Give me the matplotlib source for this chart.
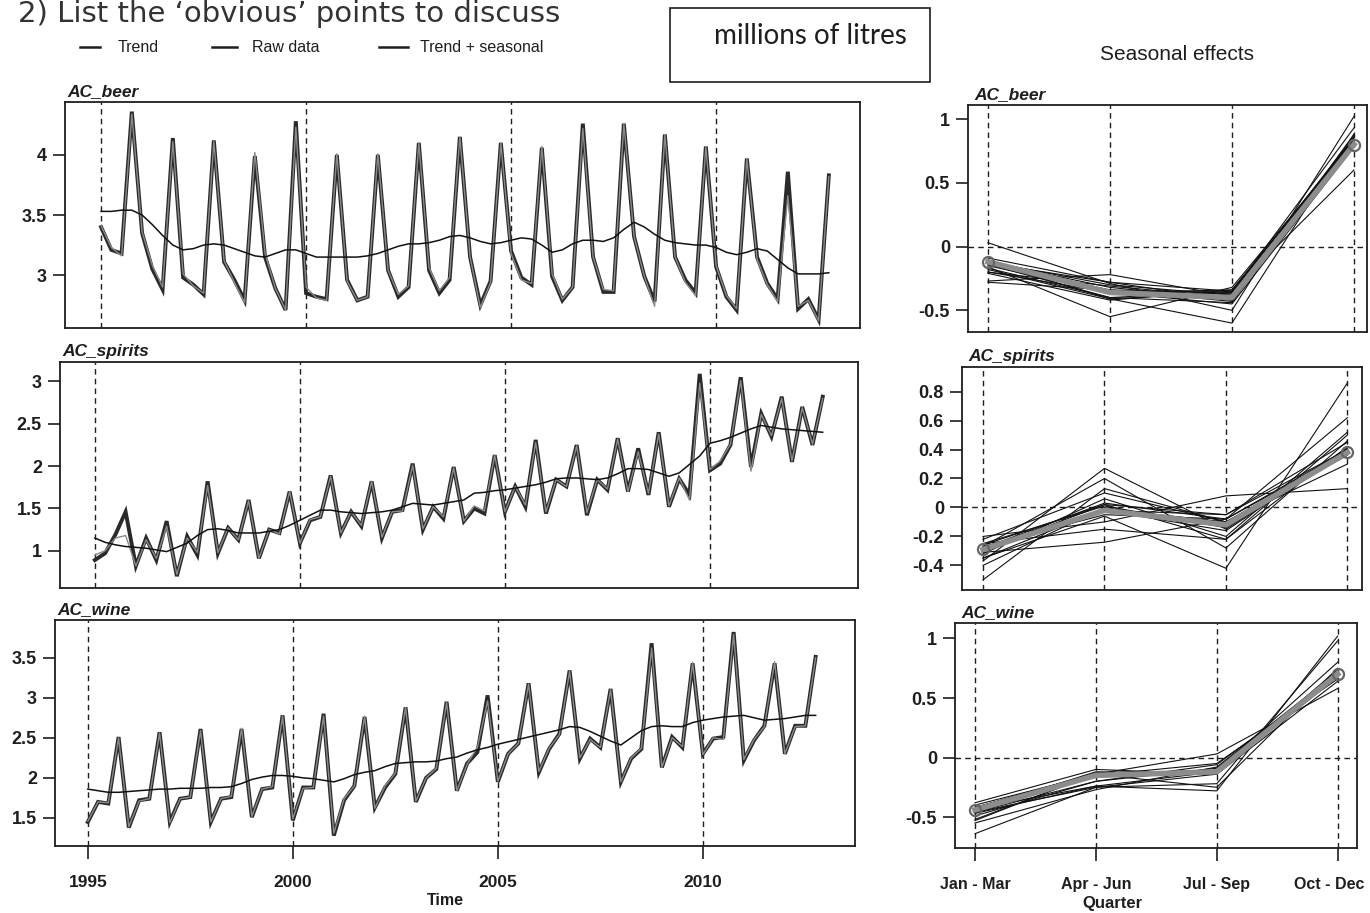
import numpy as np
import matplotlib
matplotlib.use("Agg")
import matplotlib.pyplot as plt
import matplotlib.transforms as mtransforms
from matplotlib.lines import Line2D
from matplotlib.patches import Rectangle

plt.rcParams['font.family'] = ['Liberation Sans', 'DejaVu Sans']

years = list(range(1995, 2013))
quarter_names = ["Jan - Mar", "Apr - Jun", "Jul - Sep", "Oct - Dec"]
series_names = ["AC_beer", "AC_spirits", "AC_wine"]

# raw quarterly data, millions of litres (Q1..Q4 per row)
beer_raw = [3.40, 3.21, 3.18, 4.36,  3.35, 3.05, 2.88, 4.14,  2.98, 2.92, 2.84, 4.12,
            3.11, 2.96, 2.79, 3.99,  3.15, 2.89, 2.71, 4.28,  2.85, 2.82, 2.80, 4.00,
            2.96, 2.79, 2.82, 4.00,  3.04, 2.82, 2.90, 4.10,  3.04, 2.85, 2.96, 4.15,
            3.15, 2.75, 2.95, 4.10,  3.20, 2.98, 2.92, 4.06,  2.99, 2.79, 2.90, 4.26,
            3.15, 2.86, 2.86, 4.26,  3.32, 2.99, 2.78, 4.17,  3.15, 2.96, 2.85, 4.07,
            3.07, 2.82, 2.71, 3.97,  3.15, 2.93, 2.80, 3.86,  2.72, 2.80, 2.63, 3.83]
spirits_raw = [0.89, 0.97, 1.19, 1.46,  0.82, 1.15, 0.89, 1.35,  0.70, 1.17, 0.95, 1.82,
               0.97, 1.27, 1.13, 1.60,  0.91, 1.25, 1.21, 1.70,  1.09, 1.36, 1.40, 1.89,
               1.21, 1.46, 1.29, 1.82,  1.15, 1.46, 1.48, 2.03,  1.25, 1.52, 1.38, 1.99,
               1.35, 1.50, 1.44, 2.13,  1.46, 1.76, 1.52, 2.31,  1.44, 1.84, 1.76, 2.25,
               1.42, 1.84, 1.72, 2.33,  1.70, 2.21, 1.66, 2.40,  1.52, 1.85, 1.66, 3.09,
               1.95, 2.03, 2.25, 3.05,  1.99, 2.62, 2.35, 2.82,  2.05, 2.70, 2.25, 2.82]
wine_raw = [1.45, 1.70, 1.68, 2.51,  1.38, 1.72, 1.74, 2.57,  1.45, 1.74, 1.76, 2.61,
            1.45, 1.74, 1.76, 2.61,  1.51, 1.86, 1.88, 2.78,  1.47, 1.88, 1.88, 2.80,
            1.28, 1.72, 1.90, 2.76,  1.63, 1.88, 2.05, 2.88,  1.70, 2.00, 2.11, 2.95,
            1.84, 2.18, 2.32, 3.03,  1.95, 2.30, 2.43, 3.18,  2.07, 2.36, 2.55, 3.34,
            2.24, 2.49, 2.38, 3.11,  1.95, 2.24, 2.36, 3.68,  2.13, 2.51, 2.38, 3.43,
            2.30, 2.49, 2.51, 3.82,  2.22, 2.47, 2.65, 3.43,  2.30, 2.65, 2.65, 3.51]

# trend component
beer_trend = [3.53, 3.53, 3.54, 3.54,  3.50, 3.42, 3.33, 3.25,  3.21, 3.22, 3.25, 3.26,
              3.25, 3.22, 3.19, 3.16,  3.15, 3.18, 3.21, 3.21,  3.18, 3.15, 3.15, 3.15,
              3.15, 3.15, 3.16, 3.18,  3.21, 3.24, 3.26, 3.26,  3.27, 3.29, 3.32, 3.33,
              3.31, 3.28, 3.26, 3.27,  3.29, 3.31, 3.30, 3.25,  3.19, 3.21, 3.26, 3.29,
              3.29, 3.28, 3.31, 3.38,  3.44, 3.40, 3.34, 3.29,  3.27, 3.26, 3.25, 3.25,
              3.23, 3.19, 3.17, 3.19,  3.22, 3.20, 3.13, 3.06,  3.01, 3.01, 3.01, 3.02]
spirits_trend = [1.15, 1.10, 1.07, 1.05,  1.04, 1.03, 1.01, 0.99,  1.04, 1.09, 1.18, 1.25,
                 1.26, 1.24, 1.21, 1.21,  1.21, 1.23, 1.25, 1.30,  1.36, 1.42, 1.48, 1.48,
                 1.46, 1.45, 1.44, 1.45,  1.46, 1.48, 1.52, 1.56,  1.55, 1.54, 1.56, 1.58,
                 1.60, 1.68, 1.69, 1.71,  1.72, 1.74, 1.76, 1.78,  1.81, 1.85, 1.86, 1.86,
                 1.85, 1.84, 1.86, 1.91,  1.97, 1.97, 1.96, 1.92,  1.88, 1.92, 2.02, 2.12,
                 2.27, 2.30, 2.34, 2.39,  2.44, 2.48, 2.46, 2.44,  2.43, 2.42, 2.41, 2.40]
wine_trend = [1.86, 1.84, 1.82, 1.82,  1.83, 1.84, 1.85, 1.86,  1.86, 1.87, 1.87, 1.87,
              1.88, 1.88, 1.89, 1.93,  1.98, 2.01, 2.03, 2.03,  2.02, 2.00, 1.99, 1.97,
              1.95, 1.99, 2.04, 2.07,  2.09, 2.14, 2.18, 2.19,  2.20, 2.20, 2.21, 2.24,
              2.26, 2.31, 2.35, 2.38,  2.42, 2.45, 2.48, 2.51,  2.54, 2.57, 2.60, 2.64,
              2.63, 2.58, 2.52, 2.46,  2.41, 2.50, 2.59, 2.64,  2.65, 2.64, 2.64, 2.69,
              2.72, 2.74, 2.76, 2.77,  2.78, 2.75, 2.72, 2.73,  2.74, 2.76, 2.78, 2.78]

# seasonal effects, one row per year (Q1..Q4)
beer_seasonal = [[-0.12, -0.30, -0.38, 0.80], [-0.14, -0.34, -0.43, 0.86], [-0.20, -0.31, -0.40, 0.85],
                 [-0.13, -0.28, -0.42, 0.86], [0.03, -0.29, -0.50, 1.02], [-0.28, -0.34, -0.36, 0.86],
                 [-0.20, -0.36, -0.34, 0.83], [-0.17, -0.40, -0.35, 0.84], [-0.21, -0.42, -0.34, 0.82],
                 [-0.16, -0.55, -0.32, 0.83], [-0.11, -0.35, -0.37, 0.82], [-0.18, -0.41, -0.36, 0.93],
                 [-0.14, -0.40, -0.44, 0.88], [-0.12, -0.41, -0.60, 0.88], [-0.12, -0.32, -0.42, 0.82],
                 [-0.15, -0.36, -0.45, 0.78], [-0.09, -0.28, -0.35, 0.60], [-0.27, -0.22, -0.39, 0.80]]
spirits_seasonal = [[-0.20, -0.10, 0.08, 0.13], [-0.22, 0.10, -0.10, 0.30], [-0.32, 0.06, -0.20, 0.52],
                    [-0.28, 0.03, -0.08, 0.38], [-0.30, 0.02, -0.05, 0.40], [-0.27, -0.05, -0.08, 0.40],
                    [-0.25, 0.01, -0.14, 0.37], [-0.30, -0.02, -0.05, 0.45], [-0.29, -0.02, -0.16, 0.40],
                    [-0.25, -0.15, -0.22, 0.42], [-0.26, 0.02, -0.22, 0.50], [-0.35, -0.01, -0.10, 0.38],
                    [-0.40, 0.00, -0.13, 0.41], [-0.27, 0.20, -0.28, 0.46], [-0.35, -0.06, -0.42, 0.86],
                    [-0.31, -0.24, -0.08, 0.62], [-0.50, 0.13, -0.10, 0.36], [-0.37, 0.27, -0.15, 0.40]]
wine_seasonal = [[-0.40, -0.14, -0.13, 0.68], [-0.44, -0.13, -0.11, 0.70], [-0.42, -0.13, -0.11, 0.72],
                 [-0.43, -0.14, -0.12, 0.69], [-0.46, -0.15, -0.14, 0.74], [-0.53, -0.13, -0.11, 0.80],
                 [-0.64, -0.25, -0.14, 0.70], [-0.47, -0.24, -0.12, 0.69], [-0.49, -0.20, -0.09, 0.70],
                 [-0.42, -0.14, 0.03, 0.58], [-0.46, -0.15, -0.05, 0.66], [-0.46, -0.20, -0.06, 0.69],
                 [-0.38, -0.10, -0.14, 0.64], [-0.46, -0.25, -0.22, 0.98], [-0.52, -0.14, -0.25, 0.75],
                 [-0.43, -0.24, -0.28, 1.02], [-0.55, -0.27, -0.08, 0.72], [-0.44, -0.12, -0.13, 0.72]]

# average seasonal effect (grey line with circles)
beer_avg = [-0.12, -0.36, -0.40, 0.80]
spirits_avg = [-0.29, -0.02, -0.12, 0.38]
wine_avg = [-0.44, -0.15, -0.12, 0.70]

raw_all = [beer_raw, spirits_raw, wine_raw]
trend_all = [beer_trend, spirits_trend, wine_trend]
seas_all = [beer_seasonal, spirits_seasonal, wine_seasonal]
avg_all = [beer_avg, spirits_avg, wine_avg]

left_yticks = [[3, 3.5, 4], [1, 1.5, 2, 2.5, 3], [1.5, 2, 2.5, 3, 3.5]]
right_yticks = [[-0.5, 0, 0.5, 1], [-0.4, -0.2, 0, 0.2, 0.4, 0.6, 0.8], [-0.5, 0, 0.5, 1]]
year_marks = [1995, 2000, 2005, 2010]

t = np.array([y + q / 4 for y in years for q in range(4)])

# layout in pixels
W, H = 1370, 913
def rect(x0, y0, x1, y1):
    return [x0 / W, 1 - y1 / H, (x1 - x0) / W, (y1 - y0) / H]

left_boxes = [(65, 102, 860, 328), (60, 362, 858, 588), (55, 620, 855, 846)]
left_xlims = [(1994.12, 2013.51), (1994.15, 2013.61), (1994.20, 2013.71)]
left_ylims = [(2.56, 4.44), (0.56, 3.23), (1.15, 3.97)]
right_boxes = [(968, 105, 1367, 332), (962, 367, 1362, 590), (955, 623, 1357, 848)]
right_xlims = [(0.836, 4.107), (0.827, 4.12), (0.835, 4.16)]
right_ylims = [(-0.67, 1.11), (-0.57, 0.97), (-0.76, 1.13)]

dash = (0, (4, 3))
ink = '#1e1e1e'

fig = plt.figure(figsize=(13.7, 9.13), dpi=100)


def fmt(v):
    return ('%g' % v)


def style_axes(ax):
    for s in ax.spines.values():
        s.set_linewidth(1.3)
        s.set_color(ink)
    ax.tick_params(direction='out', length=9, width=1.2, colors=ink, labelsize=13, pad=4)


for k in range(3):
    # time series panel
    ax = fig.add_axes(rect(*left_boxes[k]))
    style_axes(ax)
    raw = np.array(raw_all[k])
    trend = np.array(trend_all[k])
    tr_seas = trend + np.array(seas_all[k]).ravel()
    for yr in year_marks:
        ax.axvline(yr, color=ink, lw=1.0, ls=dash)
    ax.plot(t, raw, color='#2a2a2a', lw=2.8, solid_joinstyle='miter')
    ax.plot(t, tr_seas, color='#8a8a8a', lw=1.0)
    ax.plot(t, trend, color='#111111', lw=1.1)
    ax.set_xlim(*left_xlims[k])
    ax.set_ylim(*left_ylims[k])
    ax.set_yticks(left_yticks[k])
    ax.set_yticklabels([fmt(v) for v in left_yticks[k]], fontweight='bold')
    if k == 2:
        ax.set_xticks(year_marks)
        ax.set_xticklabels([str(y) for y in year_marks], fontweight='bold', fontsize=12.5)
        ax.tick_params(axis='x', pad=12)
    else:
        ax.set_xticks([])
    ax.text(0.003, 1.012, series_names[k], transform=ax.transAxes, ha='left', va='bottom',
            fontsize=12.5, fontweight='bold', fontstyle='italic', color=ink)

    # seasonal effects panel
    ax2 = fig.add_axes(rect(*right_boxes[k]))
    style_axes(ax2)
    qx = np.arange(1, 5)
    for qq in qx:
        ax2.axvline(qq, color=ink, lw=1.0, ls=dash)
    ax2.axhline(0, color=ink, lw=1.0, ls=dash)
    for row in seas_all[k]:
        ax2.plot(qx, row, color='#111111', lw=0.8)
    ax2.plot(qx, avg_all[k], color='#8c8c8c', lw=4, marker='o', markevery=[0, 3],
             markersize=8, markerfacecolor='none', markeredgecolor='#666666', markeredgewidth=1.6)
    ax2.set_xlim(*right_xlims[k])
    ax2.set_ylim(*right_ylims[k])
    ax2.set_yticks(right_yticks[k])
    ax2.set_yticklabels([fmt(v) for v in right_yticks[k]], fontweight='bold')
    if k == 2:
        ax2.set_xticks(qx)
        labels = ax2.set_xticklabels(quarter_names, fontweight='bold', fontsize=11.5)
        ax2.tick_params(axis='x', pad=12)
        shift = mtransforms.ScaledTranslation(-8 / 100, 0, fig.dpi_scale_trans)
        labels[-1].set_transform(labels[-1].get_transform() + shift)
    else:
        ax2.set_xticks([])
    ax2.text(0.015, 1.012, series_names[k], transform=ax2.transAxes, ha='left', va='bottom',
             fontsize=12.5, fontweight='bold', fontstyle='italic', color=ink)

# axis titles
fig.text(445 / W, 1 - 900 / H, "Time", ha='center', va='center', fontsize=11.5, fontweight='bold', color=ink)
fig.text(1112 / W, 1 - 903 / H, "Quarter", ha='center', va='center', fontsize=12, fontweight='bold', color=ink)
fig.text(1177 / W, 1 - 55 / H, "Seasonal effects", ha='center', va='center', fontsize=15, color=ink)

# header
fig.text(18 / W, 1 - 22 / H, "2) List the \u2018obvious\u2019 points to discuss", ha='left', va='baseline',
         fontsize=21, family='DejaVu Sans', color='#333333')

# legend
legend_items = [("Trend", 80, 100, 118), ("Raw data", 212, 237, 252), ("Trend + seasonal", 379, 408, 420)]
for label, lx0, lx1, tx in legend_items:
    fig.add_artist(Line2D([lx0 / W, lx1 / W], [1 - 47 / H, 1 - 47 / H], color=ink, lw=1.8))
    fig.text(tx / W, 1 - 47 / H, label, ha='left', va='center', fontsize=11.5, color=ink)

# units box
fig.add_artist(Rectangle((670 / W, 1 - 82 / H), 260 / W, 74 / H, fill=False, ec=ink, lw=1.2))
fig.text(810 / W, 1 - 36 / H, "millions of litres", ha='center', va='center', fontsize=20,
         family=['Lato', 'DejaVu Sans'], color=ink)

fig.savefig("out.png", dpi=100)
